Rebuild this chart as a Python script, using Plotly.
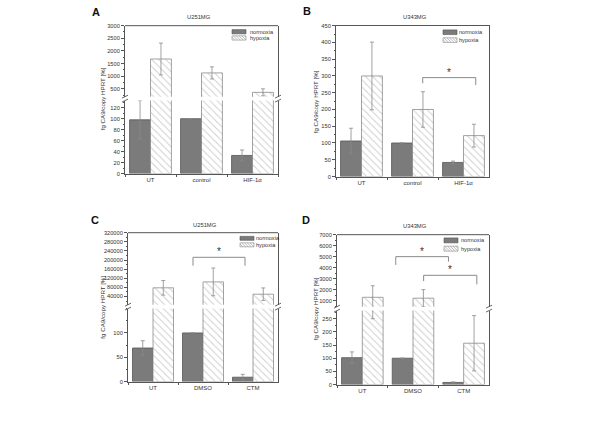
import plotly.graph_objects as go

W, H = 600, 424
def px(x): return x / W
def py(y): return 1 - y / H

# ---------------- data ----------------
cats_A = ["UT", "control", "HIF-1α"]
norm_A = [98, 100, 33]
norm_A_err = [35, 0, 10]
hyp_A = [1680, 1130, 360]
hyp_A_err = [630, 240, 140]

cats_B = ["UT", "control", "HIF-1α"]
norm_B = [106, 100, 42]
norm_B_err = [38, 0, 4]
hyp_B = [300, 200, 122]
hyp_B_err = [101, 53, 34]

cats_C = ["UT", "DMSO", "CTM"]
norm_C = [69, 100, 9]
norm_C_err = [15, 0, 6]
hyp_C = [78000, 104000, 50000]
hyp_C_err = [32000, 61000, 27500]

cats_D = ["UT", "DMSO", "CTM"]
norm_D = [102, 100, 8]
norm_D_err = [22, 0, 2]
hyp_D = [1300, 1220, 157]
hyp_D_err = [1050, 780, 105]

series_names = ["normoxia", "hypoxia"]
titles = ["U251MG", "U343MG", "U251MG", "U343MG"]
panel_letters = ["A", "B", "C", "D"]
ytitle = "fg CA9/copy HPRT [%]"

# ---------------- style ----------------
FONT = "Liberation Sans, Arial, sans-serif"
NORM_FILL = "#7b7b7b"
NORM_LINE = "#555555"
HYP_LINE = "#8a8a8a"
AX_COL = "#555555"
ERR_COL = "#8a8a8a"
YTICKFONT = dict(family=FONT, size=5.7, color="#333333")
XTICKFONT = dict(family=FONT, size=6, color="#333333")

fig = go.Figure()

def add_bars(xa, ya, cats, norm, nerr, hyp, herr):
    fig.add_trace(go.Bar(
        x=cats, y=norm, name=series_names[0], xaxis=xa, yaxis=ya,
        marker=dict(color=NORM_FILL, line=dict(color=NORM_LINE, width=0.8)),
        error_y=dict(type="data", array=nerr, color=ERR_COL, thickness=0.8, width=2),
        showlegend=False))
    fig.add_trace(go.Bar(
        x=cats, y=hyp, name=series_names[1], xaxis=xa, yaxis=ya,
        marker=dict(color="white", line=dict(color=HYP_LINE, width=0.8),
                    pattern=dict(shape="\\", bgcolor="white", fgcolor="#9a9a9a",
                                 size=5, solidity=0.18)),
        error_y=dict(type="data", array=herr, color=ERR_COL, thickness=0.8, width=2),
        showlegend=False))

# panel A (broken axis): x, y (lower), y2 (upper)
add_bars("x", "y", cats_A, norm_A, norm_A_err, hyp_A, hyp_A_err)
add_bars("x", "y2", cats_A, norm_A, norm_A_err, hyp_A, hyp_A_err)
# panel B
add_bars("x2", "y3", cats_B, norm_B, norm_B_err, hyp_B, hyp_B_err)
# panel C (broken)
add_bars("x3", "y4", cats_C, norm_C, norm_C_err, hyp_C, hyp_C_err)
add_bars("x3", "y5", cats_C, norm_C, norm_C_err, hyp_C, hyp_C_err)
# panel D (broken)
add_bars("x4", "y6", cats_D, norm_D, norm_D_err, hyp_D, hyp_D_err)
add_bars("x4", "y7", cats_D, norm_D, norm_D_err, hyp_D, hyp_D_err)

def xaxis(x0, x1, anchor, mirror=False):
    return dict(domain=[px(x0), px(x1)], anchor=anchor, range=[-0.5, 2.5],
                type="category", showline=True, linecolor=AX_COL, linewidth=1,
                mirror=mirror, ticks="outside", tickson="boundaries", ticklen=2,
                tickcolor=AX_COL, tickfont=XTICKFONT, showgrid=False, zeroline=False,
                fixedrange=True)

def yaxis(ytop, ybot, anchor, rng, tickvals, minor_dtick):
    return dict(domain=[py(ybot), py(ytop)], anchor=anchor, range=rng,
                showline=True, linecolor=AX_COL, linewidth=1, mirror=True,
                ticks="outside", ticklen=3, tickcolor=AX_COL, tickfont=YTICKFONT,
                tickvals=tickvals, tickformat="d", showgrid=False, zeroline=False,
                minor=dict(ticks="outside", ticklen=1.5, dtick=minor_dtick,
                           tickcolor=AX_COL, showgrid=False),
                fixedrange=True)

# geometry (pixels)
A_x = (125, 278); A_up = (23, 95); A_lo = (99, 173)
B_x = (336, 489); B_y = (23, 176)
C_x = (128, 278); C_up = (233, 306); C_lo = (310, 384)
D_x = (337, 489); D_up = (235, 308); D_lo = (312, 387)

fig.update_layout(
    xaxis=xaxis(*A_x, "y"),
    yaxis=yaxis(*A_lo, "x", [0, 133], list(range(0, 121, 20)), 10),
    yaxis2=yaxis(*A_up, "x", [190, 3000], list(range(500, 3001, 500)), 250),
    xaxis2=xaxis(*B_x, "y3", mirror=True),
    yaxis3=yaxis(*B_y, "x2", [0, 450], list(range(0, 451, 50)), 25),
    xaxis3=xaxis(*C_x, "y4"),
    yaxis4=yaxis(*C_lo, "x3", [0, 150], [0, 50, 100], 25),
    yaxis5=yaxis(*C_up, "x3", [4000, 320000], list(range(40000, 320001, 40000)), 20000),
    xaxis4=xaxis(*D_x, "y6"),
    yaxis6=yaxis(*D_lo, "x4", [0, 281], list(range(0, 251, 50)), 25),
    yaxis7=yaxis(*D_up, "x4", [450, 7000], list(range(1000, 7001, 1000)), 500),
)

shapes = []
annotations = []

def pline(x0, y0, x1, y1, color=AX_COL, width=1):
    shapes.append(dict(type="line", xref="paper", yref="paper",
                       x0=px(x0), y0=py(y0), x1=px(x1), y1=py(y1),
                       line=dict(color=color, width=width)))

# top frame lines for broken panels and break marks
for (xr, up, lo) in [(A_x, A_up, A_lo), (C_x, C_up, C_lo), (D_x, D_up, D_lo)]:
    pline(xr[0], up[0], xr[1], up[0])
    for xx in xr:
        pline(xx - 3, up[1] + 1.5, xx + 3, up[1] - 1.5, width=0.9)
        pline(xx - 3, lo[0] + 1.5, xx + 3, lo[0] - 1.5, width=0.9)

# significance brackets: (xaxis, yaxis, x0, x1, y, yend0, yend1)
brackets = [
    ("x2", "y3", 1.2, 2.24, 295, 278, 273),
    ("x3", "y5", 0.8, 1.84, 212000, 175000, 175000),
    ("x4", "y7", 0.66, 1.70, 5000, 4250, 4550),
    ("x4", "y7", 1.21, 2.26, 3300, 2770, 2480),
]
for xa, ya, x0, x1, yv, e0, e1 in brackets:
    for (a0, b0, a1, b1) in [(x0, yv, x1, yv), (x0, yv, x0, e0), (x1, yv, x1, e1)]:
        shapes.append(dict(type="line", xref=xa, yref=ya, x0=a0, y0=b0, x1=a1, y1=b1,
                           line=dict(color="#8a8a8a", width=1)))
    annotations.append(dict(xref=xa, yref=ya, x=(x0 + x1) / 2, y=yv, text="*",
                            showarrow=False, yanchor="bottom", yshift=-2,
                            font=dict(family=FONT, size=10, color="#333333")))

# legends (custom swatches)
def legend(x0, y0, h, gap, tx):
    w = 14
    shapes.append(dict(type="rect", xref="paper", yref="paper",
                       x0=px(x0), x1=px(x0 + w), y0=py(y0), y1=py(y0 + h),
                       fillcolor=NORM_FILL, line=dict(color=NORM_LINE, width=0.6)))
    y1 = y0 + gap
    shapes.append(dict(type="rect", xref="paper", yref="paper",
                       x0=px(x0), x1=px(x0 + w), y0=py(y1), y1=py(y1 + h),
                       fillcolor="white", line=dict(color=HYP_LINE, width=0.6)))
    a = x0 - h
    while a < x0 + w:
        sx, sy = a, y1
        ex, ey = a + h, y1 + h
        if sx < x0:
            sy += (x0 - sx); sx = x0
        if ex > x0 + w:
            ey -= (ex - (x0 + w)); ex = x0 + w
        if ex > sx:
            pline(sx, sy, ex, ey, color="#8a8a8a", width=0.6)
        a += 2.8
    for yy, name in [(y0 + h / 2, series_names[0]), (y1 + h / 2, series_names[1])]:
        annotations.append(dict(xref="paper", yref="paper", x=px(tx), y=py(yy),
                                text=name, showarrow=False, xanchor="left",
                                yanchor="middle",
                                font=dict(family=FONT, size=5.6, color="#333")))

legend(232, 27, 4.3, 6.3, 248)
legend(443, 27.3, 4.7, 8, 457)
legend(240, 236.7, 4, 6.6, 253.5)
legend(444, 238.3, 5, 8.4, 458.5)

for (x, y, t) in [(199, 14, titles[0]), (415, 14.3, titles[1]),
                  (205, 225, titles[2]), (415, 225.7, titles[3])]:
    annotations.append(dict(xref="paper", yref="paper", x=px(x), y=py(y), text=t,
                            showarrow=False, xanchor="center", yanchor="middle",
                            font=dict(family=FONT, size=5.8, color="#333")))
for (x, y, t) in [(96, 9.3, panel_letters[0]), (307, 8.5, panel_letters[1]),
                  (95, 220, panel_letters[2]), (306, 220, panel_letters[3])]:
    annotations.append(dict(xref="paper", yref="paper", x=px(x), y=py(y),
                            text="<b>%s</b>" % t, showarrow=False,
                            xanchor="center", yanchor="middle",
                            font=dict(family=FONT, size=11, color="#111")))
for (x, y) in [(102.7, 97), (315.7, 100), (103, 309), (315.7, 310)]:
    annotations.append(dict(xref="paper", yref="paper", x=px(x), y=py(y), text=ytitle,
                            showarrow=False, textangle=-90, xanchor="center",
                            yanchor="middle",
                            font=dict(family=FONT, size=6.2, color="#333")))

fig.update_layout(
    width=W, height=H, margin=dict(l=0, r=0, t=0, b=0),
    paper_bgcolor="white", plot_bgcolor="white",
    barmode="group", bargap=0.18, bargroupgap=0,
    shapes=shapes, annotations=annotations, showlegend=False,
    font=dict(family=FONT, size=7, color="#333"),
)

fig.write_html("out.html", config={"displayModeBar": False},
               post_script="document.body.style.margin='0px';document.body.style.overflow='hidden';")
